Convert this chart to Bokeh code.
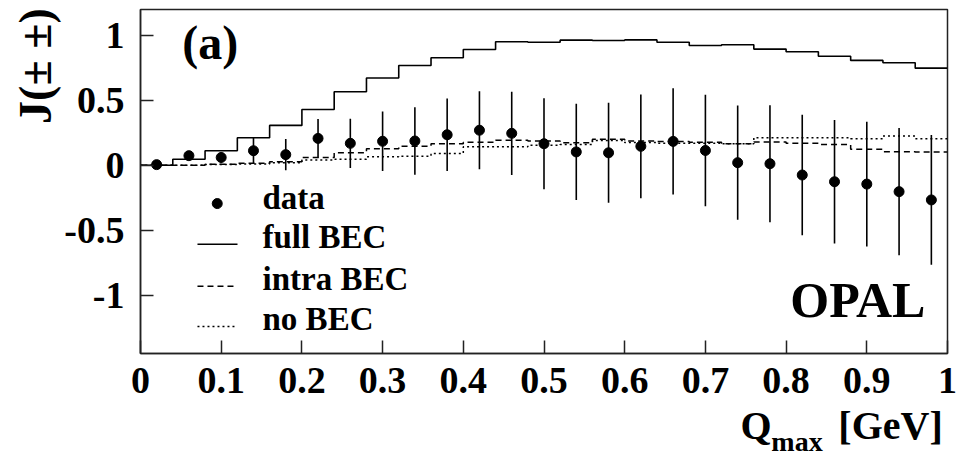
import math
from bokeh.plotting import figure
from bokeh.models import FixedTicker, Label, LinearAxis, AllLabels
from bokeh.embed import file_html
from bokeh.resources import INLINE

# Q_max bins (width 0.04 GeV)
bin_edges = [round(0.04 * i, 2) for i in range(26)]
bin_centres = [round(0.02 + 0.04 * i, 2) for i in range(25)]

# measured J(±±) with errors
data_j = [0.005, 0.074, 0.06, 0.112, 0.082, 0.207, 0.169, 0.185, 0.187, 0.235,
          0.27, 0.246, 0.166, 0.103, 0.096, 0.146, 0.184, 0.114, 0.02, 0.012,
          -0.075, -0.127, -0.145, -0.203, -0.267]
data_err = [0.0, 0.025, 0.04, 0.1, 0.12, 0.15, 0.19, 0.23, 0.26, 0.28,
            0.30, 0.32, 0.35, 0.37, 0.385, 0.40, 0.41, 0.43, 0.44, 0.45,
            0.465, 0.475, 0.48, 0.49, 0.50]

# Monte Carlo predictions per bin
full_bec = [0.0, 0.046, 0.112, 0.212, 0.307, 0.43, 0.566, 0.672, 0.769, 0.828,
            0.892, 0.951, 0.948, 0.964, 0.961, 0.966, 0.948, 0.923, 0.928, 0.895,
            0.874, 0.84, 0.808, 0.79, 0.748]
intra_bec = [0.0, 0.0, 0.008, 0.015, 0.028, 0.06, 0.097, 0.128, 0.146, 0.166,
             0.177, 0.192, 0.187, 0.174, 0.2, 0.187, 0.183, 0.177, 0.166, 0.18,
             0.17, 0.16, 0.123, 0.105, 0.103]
no_bec = [0.0, 0.0, 0.005, 0.01, 0.02, 0.04, 0.046, 0.065, 0.07, 0.09,
          0.142, 0.143, 0.154, 0.16, 0.19, 0.175, 0.17, 0.17, 0.165, 0.212,
          0.212, 0.212, 0.205, 0.225, 0.205]

x_ticks = [0, 0.1, 0.2, 0.3, 0.4, 0.5, 0.6, 0.7, 0.8, 0.9, 1]
x_tick_labels = ["0", "0.1", "0.2", "0.3", "0.4", "0.5", "0.6", "0.7", "0.8", "0.9", "1"]
y_ticks = [-1, -0.5, 0, 0.5, 1]
y_tick_labels = ["-1", "-0.5", "0", "0.5", "1"]

legend_entries = ["data", "full BEC", "intra BEC", "no BEC"]

SERIF = "Liberation Serif"

p = figure(frame_width=807, frame_height=344,
           x_range=(0, 1), y_range=(-1.45, 1.2),
           min_border_left=140, min_border_right=20,
           min_border_top=9, min_border_bottom=102,
           output_backend="svg", toolbar_location=None)
p.background_fill_color = "white"
p.border_fill_color = "white"
p.grid.visible = False
p.outline_line_color = "#222222"
p.outline_line_width = 1.5

for ax, ticks, labels in ((p.xaxis[0], x_ticks, x_tick_labels),
                          (p.yaxis[0], y_ticks, y_tick_labels)):
    ax.ticker = FixedTicker(ticks=ticks)
    ax.major_label_overrides = {t: l for t, l in zip(ticks, labels)}
    ax.major_tick_in = 13
    ax.major_tick_out = 0
    ax.minor_tick_line_color = None
    ax.axis_line_color = "#222222"
    ax.axis_line_width = 1.5
    ax.major_tick_line_color = "#222222"
    ax.major_tick_line_width = 1.5
    ax.major_label_text_font = SERIF
    ax.major_label_text_font_style = "bold"
    ax.major_label_text_font_size = "38px"
    ax.major_label_text_color = "black"

p.xaxis.major_label_standoff = 14
p.yaxis.major_label_standoff = 16


def title_axis(side, pos_text, size, standoff, orientation="horizontal"):
    """Bare axis (no line, no ticks) used only to place title text."""
    ax = LinearAxis(ticker=FixedTicker(ticks=list(pos_text)),
                    major_label_overrides=dict(pos_text),
                    major_label_policy=AllLabels(),
                    axis_line_color=None, major_tick_line_color=None,
                    minor_tick_line_color=None,
                    major_tick_in=0, major_tick_out=0,
                    major_label_standoff=standoff,
                    major_label_orientation=orientation,
                    major_label_text_font=SERIF,
                    major_label_text_font_style="bold",
                    major_label_text_font_size=size,
                    major_label_text_color="black")
    p.add_layout(ax, side)
    return ax


# axis titles: J(± ±) on the left, Q_max [GeV] below
title_axis("left", {0.764: "J(± ±)"}, "46px", 0, orientation="vertical")
title_axis("below", {0.7627: "Q", 0.9294: "[GeV]"}, "40px", 7)
title_axis("below", {0.8135: "max"}, "28px", -25)


def step_values(vals):
    return vals + [vals[-1]]


p.step(bin_edges, step_values(full_bec), mode="after",
       line_color="black", line_width=1.6)
p.step(bin_edges, step_values(intra_bec), mode="after",
       line_color="black", line_width=1.5, line_dash="6 4")
p.step(bin_edges, step_values(no_bec), mode="after",
       line_color="black", line_width=1.5, line_dash="2 3")

lo = [v - e for v, e in zip(data_j, data_err)]
hi = [v + e for v, e in zip(data_j, data_err)]
p.segment(x0=bin_centres, y0=lo, x1=bin_centres, y1=hi,
          line_color="black", line_width=1.6)
p.scatter(bin_centres, data_j, size=10, color="black")

# legend drawn by hand
leg_x0, leg_x1, leg_text_x = 0.0706, 0.1202, 0.1512
p.scatter([0.0951], [-0.295], size=10, color="black")
p.line([leg_x0, leg_x1], [-0.608, -0.608], line_color="black", line_width=1.6)
p.line([leg_x0, leg_x1], [-0.931, -0.931], line_color="black",
       line_width=1.5, line_dash="6 4")
p.line([leg_x0, leg_x1], [-1.2415, -1.2415], line_color="black",
       line_width=1.5, line_dash="2 3")
for txt, yy in zip(legend_entries, (-0.252, -0.554, -0.875, -1.183)):
    p.add_layout(Label(x=leg_text_x, y=yy, text=txt, text_font=SERIF,
                       text_font_style="bold", text_font_size="33px",
                       text_color="black", text_baseline="alphabetic"))

p.add_layout(Label(x=0.0517, y=0.949, text="(a)", text_font=SERIF,
                   text_font_style="bold", text_font_size="48px",
                   text_color="black", text_baseline="alphabetic"))
p.add_layout(Label(x=0.9727, y=-1.037, text="OPAL", text_font=SERIF,
                   text_font_style="bold", text_font_size="50px",
                   text_color="black", text_align="right",
                   text_baseline="alphabetic"))

open("out.html", "w").write(file_html(p, INLINE))
